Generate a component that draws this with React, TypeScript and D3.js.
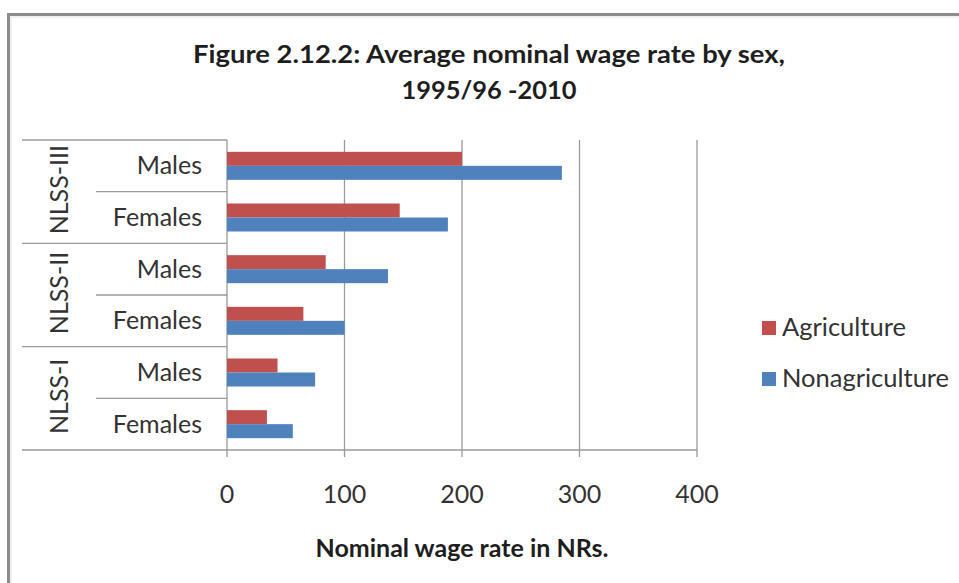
import React from "react";
import * as d3 from "d3";

const groups = ["NLSS-III", "NLSS-II", "NLSS-I"];
const sexes = ["Males", "Females"];
const seriesNames = ["Agriculture", "Nonagriculture"];
const seriesColors = ["#C0504D", "#4F81BD"];
// values per group (NLSS-III, NLSS-II, NLSS-I), per sex (Males, Females)
const agriculture = [
  [200, 147],
  [84, 65],
  [43, 34],
];
const nonagriculture = [
  [285, 188],
  [137, 100],
  [75, 56],
];
const xTicks = [0, 100, 200, 300, 400];
const titleLines = ["Figure 2.12.2: Average nominal wage rate by sex,", "1995/96 -2010"];
const xAxisTitle = "Nominal wage rate in NRs.";

const W = 959;
const H = 583;
const FONT = "Lato, Calibri, 'Open Sans', sans-serif";

export default function App() {
  const plotLeft = 227;
  const plotRight = 697;
  const plotTop = 140;
  const plotBottom = 450;
  const x = d3.scaleLinear().domain([0, 400]).range([plotLeft, plotRight]);

  const cats: { key: string; group: number; sex: number }[] = [];
  groups.forEach((g, gi) =>
    sexes.forEach((s, si) => cats.push({ key: `${g}|${s}`, group: gi, sex: si }))
  );
  const y = d3
    .scaleBand<string>()
    .domain(cats.map((c) => c.key))
    .range([plotTop, plotBottom])
    .paddingInner(0.458)
    .paddingOuter(0.229);
  const inner = d3
    .scaleBand<string>()
    .domain(seriesNames)
    .range([0, y.bandwidth()]);
  const step = y.step();

  const gridColor = "#9a9a9a";
  const textColor = "#333333";
  const titleWidths = [592, 175];

  return (
    <svg
      width={W}
      height={H}
      style={{ position: "absolute", left: 0, top: 0, background: "#fff" }}
      fontFamily={FONT}
    >
      <rect x={0} y={0} width={W} height={H} fill="#fff" />
      {/* frame */}
      <rect x={8.5} y={14.5} width={W + 20} height={H + 20} fill="none" stroke="#8c8c8c" strokeWidth={3} />
      <rect x={11} y={17} width={W + 20} height={H + 20} fill="none" stroke="#e4e4e4" strokeWidth={1} />

      {/* title */}
      {titleLines.map((t, i) => (
        <text
          key={i}
          x={489}
          y={63 + i * 35.5}
          textAnchor="middle"
          fontWeight="bold"
          fontSize={24}
          fill="#1e1e1e"
          textLength={titleWidths[i]}
          lengthAdjust="spacingAndGlyphs"
        >
          {t}
        </text>
      ))}

      {/* gridlines */}
      {xTicks.map((t) => (
        <line
          key={`g${t}`}
          x1={x(t)}
          x2={x(t)}
          y1={plotTop}
          y2={plotBottom + 7}
          stroke={gridColor}
          strokeWidth={1.3}
        />
      ))}

      {/* bars */}
      {cats.map((c) => {
        const y0 = y(c.key)!;
        const vals = [agriculture[c.group][c.sex], nonagriculture[c.group][c.sex]];
        return seriesNames.map((s, si) => (
          <rect
            key={`${c.key}-${s}`}
            x={x(0)}
            y={y0 + inner(s)!}
            width={x(vals[si]) - x(0)}
            height={inner.bandwidth()}
            fill={seriesColors[si]}
          />
        ));
      })}

      {/* category axis lines */}
      {d3.range(cats.length + 1).map((i) => {
        const yy = plotTop + i * step;
        const isGroup = i % sexes.length === 0;
        return (
          <line
            key={`c${i}`}
            x1={isGroup ? 22 : 96}
            x2={plotLeft}
            y1={yy}
            y2={yy}
            stroke={gridColor}
            strokeWidth={1.3}
          />
        );
      })}
      {/* x axis line */}
      <line x1={plotLeft} x2={plotRight} y1={plotBottom} y2={plotBottom} stroke={gridColor} strokeWidth={1.3} />

      {/* category labels */}
      {cats.map((c) => (
        <text
          key={`l${c.key}`}
          x={202}
          y={y(c.key)! + y.bandwidth() / 2 + 8.5}
          textAnchor="end"
          fontSize={25}
          fill={textColor}
        >
          {sexes[c.sex]}
        </text>
      ))}

      {/* group labels */}
      {groups.map((g, gi) => {
        const cy = plotTop + (gi * sexes.length + sexes.length / 2) * step - 2;
        return (
          <text
            key={`grp${g}`}
            transform={`translate(57.5,${cy}) rotate(-90)`}
            textAnchor="middle"
            dominantBaseline="central"
            fontSize={25}
            fill={textColor}
          >
            {g}
          </text>
        );
      })}

      {/* x tick labels */}
      {xTicks.map((t) => (
        <text key={`t${t}`} x={x(t)} y={503} textAnchor="middle" fontSize={25} fill={textColor}>
          {t}
        </text>
      ))}

      {/* x axis title */}
      <text x={462} y={557} textAnchor="middle" fontWeight="bold" fontSize={25} fill="#1e1e1e">
        {xAxisTitle}
      </text>

      {/* legend */}
      {seriesNames.map((s, i) => (
        <g key={`lg${s}`}>
          <rect x={762} y={321 + i * 51} width={14} height={14} fill={seriesColors[i]} />
          <text x={782} y={336 + i * 51} fontSize={25.5} fill={textColor}>
            {s}
          </text>
        </g>
      ))}
    </svg>
  );
}
